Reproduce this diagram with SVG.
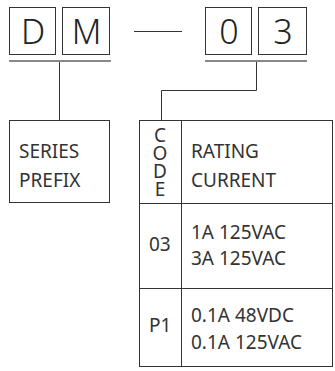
<svg xmlns="http://www.w3.org/2000/svg" width="335" height="371" viewBox="0 0 335 371">
<style>
.box{fill:#fff;stroke:#333;stroke-width:1}
.ul{stroke:#888;stroke-width:2;fill:none}
.ln{stroke:#333;stroke-width:1;fill:none}
.big{font-family:"Noto Sans","Open Sans",sans-serif;font-size:34px;font-weight:300;fill:#222;text-anchor:middle}
.t{font-family:"Noto Sans","Open Sans",sans-serif;font-size:19px;fill:#333}
.c{text-anchor:middle}
</style>
<rect width="335" height="371" fill="#fff"/>
<g id="code-D"><rect class="box" x="9.5" y="7.5" width="46" height="47"/><text class="big" x="33" y="44">D</text></g>
<g id="code-M"><rect class="box" x="62.5" y="7.5" width="47" height="47"/><text class="big" x="86.5" y="44">M</text></g>
<g id="code-0"><rect class="box" x="205.5" y="7.5" width="46" height="47"/><text class="big" x="229" y="44">0</text></g>
<g id="code-3"><rect class="box" x="258.5" y="7.5" width="48" height="47"/><text class="big" x="283" y="44">3</text></g>
<g id="series"><rect class="box" x="9.5" y="120.5" width="100" height="82"/><text class="t" x="19" y="158">SERIES</text><text class="t" x="19" y="187">PREFIX</text></g>
<g id="rating-table">
<rect class="box" x="139.5" y="120.5" width="193" height="246"/>
<line class="ln" x1="181.5" y1="120.5" x2="181.5" y2="366.5"/>
<line class="ln" x1="139.5" y1="203.5" x2="332.5" y2="203.5"/>
<line class="ln" x1="139.5" y1="288.5" x2="332.5" y2="288.5"/>
<text class="t c" x="160" y="142">C<tspan x="160" dy="18">O</tspan><tspan x="160" dy="18">D</tspan><tspan x="160" dy="18">E</tspan></text>
<text class="t" x="191" y="158">RATING</text><text class="t" x="191" y="187">CURRENT</text>
<text class="t" x="149" y="251">03</text>
<text class="t" x="191" y="239">1A 125VAC</text><text class="t" x="191" y="265">3A 125VAC</text>
<text class="t" x="149" y="332">P1</text>
<text class="t" x="191" y="322">0.1A 48VDC</text><text class="t" x="191" y="349">0.1A 125VAC</text>
</g>
<g id="connectors">
<line class="ul" x1="9" y1="61" x2="111" y2="61"/>
<line class="ul" x1="205" y1="61" x2="307" y2="61"/>
<line class="ln" x1="134" y1="31.5" x2="182" y2="31.5"/>
<polyline class="ln" points="59.5,62 59.5,120"/>
<polyline class="ln" points="256.5,62 256.5,90.5 161.5,90.5 161.5,120"/>
</g>
</svg>
